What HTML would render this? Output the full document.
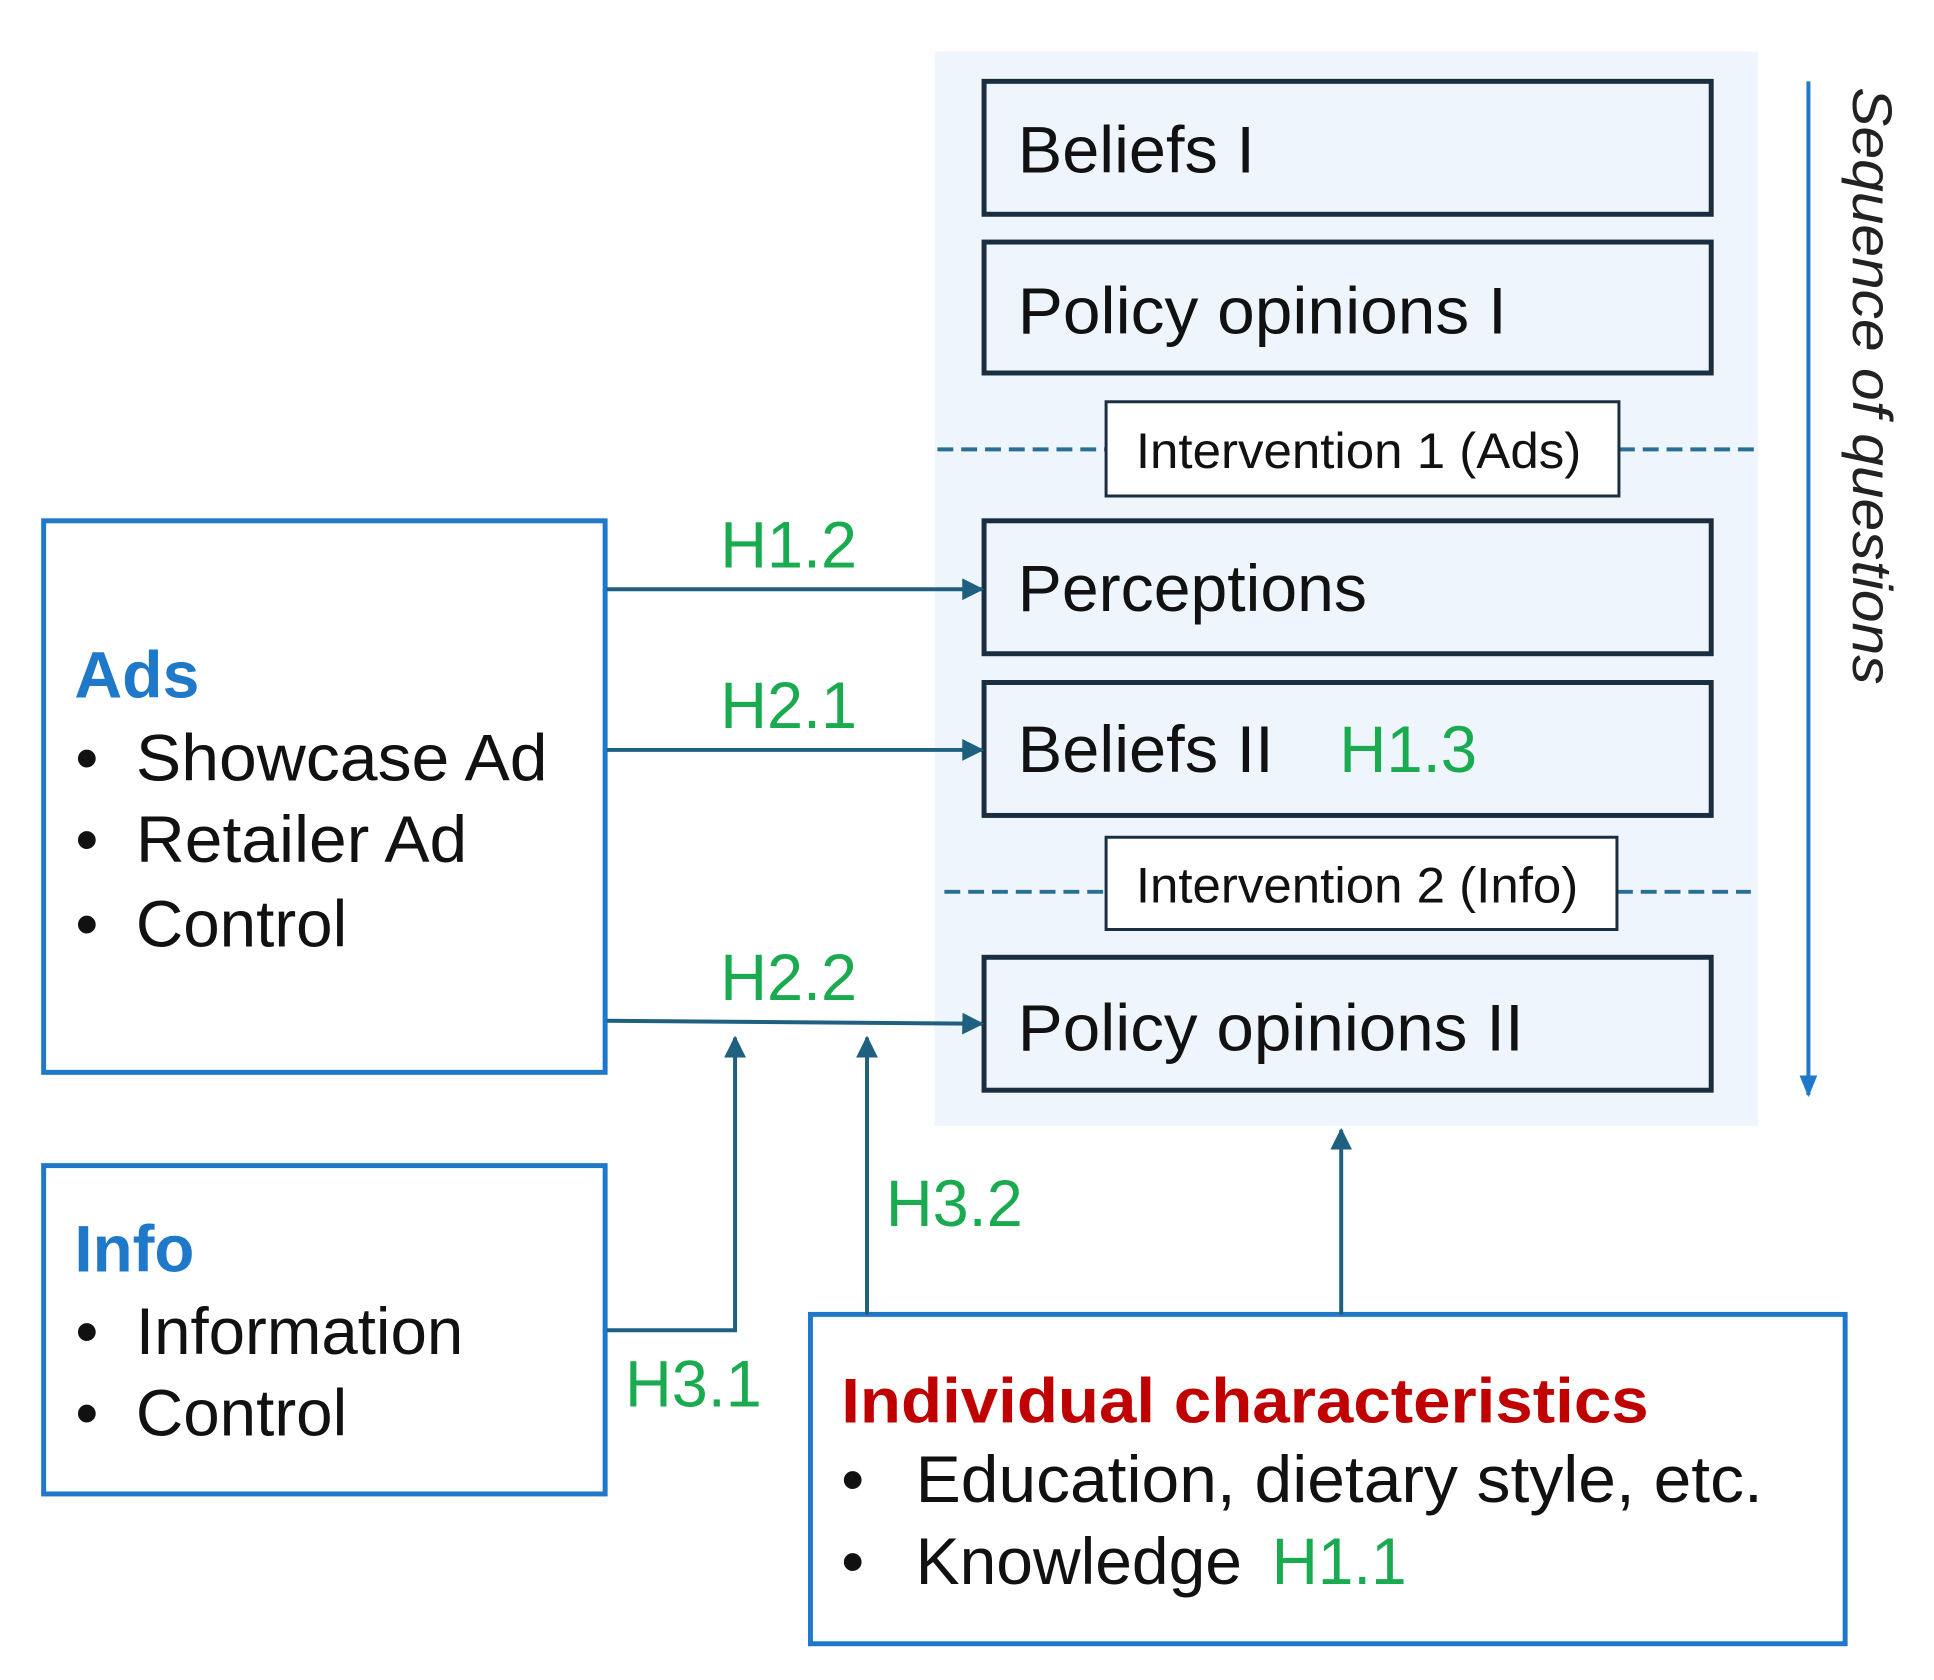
<!DOCTYPE html>
<html><head><meta charset="utf-8"><style>
html,body{margin:0;padding:0;background:#fff;}
svg{display:block;font-family:"Liberation Sans",Arial,sans-serif;}
</style></head><body>
<svg width="1934" height="1680" viewBox="0 0 1934 1680" xmlns="http://www.w3.org/2000/svg">
<defs>
<marker id="ah2" markerWidth="22" markerHeight="22" refX="20" refY="11" orient="auto" markerUnits="userSpaceOnUse">
<path d="M0,0 L22,11 L0,22 z" fill="#1f5f80"/>
</marker>
<marker id="ab" markerWidth="22" markerHeight="22" refX="20" refY="11" orient="auto" markerUnits="userSpaceOnUse">
<path d="M0,2 L22,11 L0,20 z" fill="#1f78c8"/>
</marker>
</defs>
<g transform="scale(0.992)">
<rect x="942" y="52" width="830" height="1083" fill="#eef5fc"/>
<g fill="#eef5fc" stroke="#1a2e40" stroke-width="5">
<rect x="992" y="82" width="733" height="134"/>
<rect x="992" y="244" width="733" height="132"/>
<rect x="992" y="525" width="733" height="134"/>
<rect x="992" y="688" width="733" height="134"/>
<rect x="992" y="965" width="733" height="134"/>
</g>
<g stroke="#2a6f92" stroke-width="4" stroke-dasharray="16,8">
<line x1="945" y1="453" x2="1115" y2="453"/>
<line x1="1632" y1="453" x2="1768" y2="453"/>
<line x1="952" y1="899" x2="1115" y2="899"/>
<line x1="1630" y1="899" x2="1765" y2="899"/>
</g>
<g fill="#fff" stroke="#1a2e40" stroke-width="3">
<rect x="1115" y="405" width="517" height="95"/>
<rect x="1115" y="844" width="515" height="93"/>
</g>
<g font-size="66" fill="#111">
<text x="1026" y="174" textLength="239" lengthAdjust="spacingAndGlyphs">Beliefs I</text>
<text x="1026" y="336" textLength="493" lengthAdjust="spacingAndGlyphs">Policy opinions I</text>
<text x="1026" y="616" textLength="352" lengthAdjust="spacingAndGlyphs">Perceptions</text>
<text x="1026" y="778" textLength="258" lengthAdjust="spacingAndGlyphs">Beliefs II</text>
<text x="1026" y="1059" textLength="510" lengthAdjust="spacingAndGlyphs">Policy opinions II</text>
</g>
<g font-size="50" fill="#111">
<text x="1145" y="472" textLength="449" lengthAdjust="spacingAndGlyphs">Intervention 1 (Ads)</text>
<text x="1145" y="910" textLength="446" lengthAdjust="spacingAndGlyphs">Intervention 2 (Info)</text>
</g>
<g fill="#fff" stroke="#1f78c8" stroke-width="5">
<rect x="44" y="525" width="566" height="556"/>
<rect x="44" y="1175" width="566" height="331"/>
<rect x="817" y="1325" width="1043" height="332"/>
</g>
<g stroke="#1f5f80" stroke-width="4" fill="none">
<line x1="612" y1="594" x2="990" y2="594" marker-end="url(#ah2)"/>
<line x1="612" y1="756" x2="990" y2="756" marker-end="url(#ah2)"/>
<line x1="612" y1="1029" x2="990" y2="1032" marker-end="url(#ah2)"/>
<polyline points="612,1341 741,1341 741,1046" marker-end="url(#ah2)"/>
<line x1="874" y1="1325" x2="874" y2="1046" marker-end="url(#ah2)"/>
<line x1="1352" y1="1325" x2="1352" y2="1139" marker-end="url(#ah2)"/>
</g>
<line x1="1823" y1="82" x2="1823" y2="1104" stroke="#1f78c8" stroke-width="4" marker-end="url(#ab)"/>
<text transform="translate(1868,88) rotate(90)" font-size="56" font-style="italic" fill="#222" textLength="602" lengthAdjust="spacingAndGlyphs">Sequence of questions</text>
<g font-size="66" fill="#1aaa50">
<text x="726" y="572" textLength="138" lengthAdjust="spacingAndGlyphs">H1.2</text>
<text x="726" y="734" textLength="138" lengthAdjust="spacingAndGlyphs">H2.1</text>
<text x="726" y="1008" textLength="138" lengthAdjust="spacingAndGlyphs">H2.2</text>
<text x="893" y="1236" textLength="138" lengthAdjust="spacingAndGlyphs">H3.2</text>
<text x="630" y="1418" textLength="138" lengthAdjust="spacingAndGlyphs">H3.1</text>
<text x="1350" y="778" textLength="139" lengthAdjust="spacingAndGlyphs">H1.3</text>
<text x="1282" y="1597" textLength="136" lengthAdjust="spacingAndGlyphs">H1.1</text>
</g>
<g font-size="66" font-weight="bold" fill="#1f78c8">
<text x="75" y="703" textLength="126" lengthAdjust="spacingAndGlyphs">Ads</text>
<text x="75" y="1282" textLength="121" lengthAdjust="spacingAndGlyphs">Info</text>
</g>
<text x="848" y="1434" font-size="64" font-weight="bold" fill="#c00000" textLength="814" lengthAdjust="spacingAndGlyphs">Individual characteristics</text>
<g font-size="66" fill="#111">
<text x="76" y="787">•</text>
<text x="137" y="787" textLength="415" lengthAdjust="spacingAndGlyphs">Showcase Ad</text>
<text x="76" y="869">•</text>
<text x="137" y="869" textLength="334" lengthAdjust="spacingAndGlyphs">Retailer Ad</text>
<text x="76" y="954">•</text>
<text x="137" y="954" textLength="213" lengthAdjust="spacingAndGlyphs">Control</text>
<text x="76" y="1365">•</text>
<text x="137" y="1365" textLength="330" lengthAdjust="spacingAndGlyphs">Information</text>
<text x="76" y="1447">•</text>
<text x="137" y="1447" textLength="213" lengthAdjust="spacingAndGlyphs">Control</text>
<text x="848" y="1514">•</text>
<text x="923" y="1514" textLength="854" lengthAdjust="spacingAndGlyphs">Education, dietary style, etc.</text>
<text x="848" y="1597">•</text>
<text x="923" y="1597" textLength="329" lengthAdjust="spacingAndGlyphs">Knowledge</text>
</g>
</g>
</svg>
</body></html>
